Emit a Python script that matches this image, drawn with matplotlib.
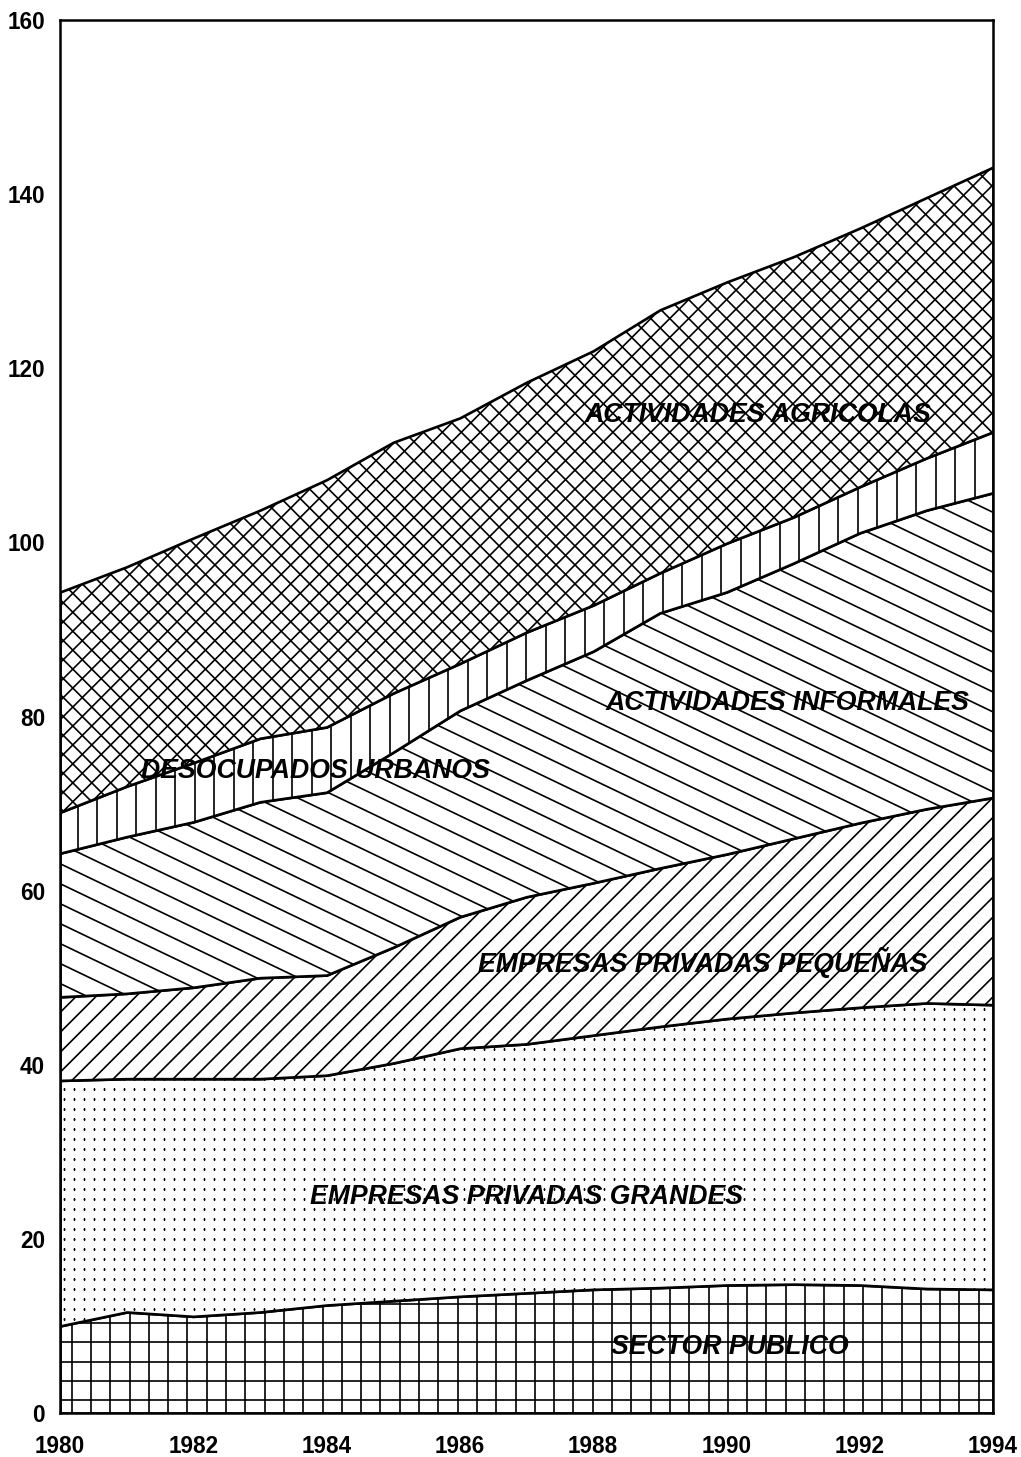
import numpy as np
import matplotlib
matplotlib.use('Agg')
import matplotlib.pyplot as plt
from matplotlib.collections import LineCollection
from matplotlib.lines import Line2D
from matplotlib.transforms import IdentityTransform

# data (millions, stacked layers)
years = np.arange(1980, 1995)
sector_publico = [10.0, 11.6, 11.1, 11.6, 12.4, 12.9, 13.4, 13.8, 14.2, 14.4, 14.7, 14.8, 14.7, 14.3, 14.2]
emp_grandes = [28.2, 26.8, 27.3, 26.8, 26.4, 27.3, 28.5, 28.6, 29.2, 30.0, 30.6, 31.2, 31.9, 32.8, 32.7]
emp_pequenas = [9.6, 9.8, 10.5, 11.6, 11.5, 13.3, 15.1, 16.9, 17.5, 18.2, 18.9, 20.0, 21.2, 22.3, 23.8]
informales = [16.5, 18.0, 19.0, 20.2, 21.0, 22.4, 23.7, 24.9, 26.6, 29.3, 30.1, 31.6, 33.3, 34.3, 35.0]
desocupados = [4.7, 5.8, 6.8, 7.3, 7.5, 6.8, 5.4, 5.5, 5.3, 4.6, 5.6, 5.3, 5.3, 6.0, 7.0]
agricolas = [25.3, 25.2, 25.8, 26.2, 28.4, 28.8, 28.2, 28.7, 29.2, 30.2, 30.0, 29.9, 29.7, 29.9, 30.4]

layer_names = ['SECTOR PUBLICO', 'EMPRESAS PRIVADAS GRANDES', 'EMPRESAS PRIVADAS PEQUEÑAS',
               'ACTIVIDADES INFORMALES', 'DESOCUPADOS URBANOS', 'ACTIVIDADES AGRICOLAS']
name_x = [1990.05, 1987.0, 1989.65, 1990.92, 1983.83, 1990.47]
name_y = [7.6, 24.8, 51.8, 81.6, 73.7, 114.6]

xticks = np.arange(1980, 1995, 2)
yticks = np.arange(0, 161, 20)

DPI = 120
fig = plt.figure(figsize=(1021 / DPI, 1457 / DPI), dpi=DPI)
ax = fig.add_axes([60 / 1021, 44 / 1457, 933 / 1021, 1393 / 1457])

polys = ax.stackplot(years, sector_publico, emp_grandes, emp_pequenas, informales,
                     desocupados, agricolas, colors=['white'] * 6,
                     edgecolor='black', linewidth=1.6)


# line hatching drawn in pixel space, clipped to one stacked layer
def hatch_lines(poly, angles, spacing, lw=1.0):
    x0, y0, w, h = ax.bbox.bounds
    L = np.hypot(w, h)
    cx, cy = x0 + w / 2, y0 + h / 2
    segs = []
    for a in angles:
        t = np.radians(a)
        dx, dy = np.cos(t), np.sin(t)
        for k in np.arange(-L / 2, L / 2 + spacing, spacing):
            px, py = cx - dy * k, cy + dx * k
            segs.append([(px - dx * L, py - dy * L), (px + dx * L, py + dy * L)])
    lc = LineCollection(segs, colors='black', linewidths=lw, transform=IdentityTransform())
    ax.add_collection(lc, autolim=False)
    lc.set_clip_path(poly.get_paths()[0], ax.transData)


def hatch_dots(poly, spacing):
    x0, y0, w, h = ax.bbox.bounds
    gx, gy = np.meshgrid(np.arange(x0 + 4, x0 + w, spacing), np.arange(y0 + 4, y0 + h, spacing))
    dots = Line2D(gx.ravel(), gy.ravel(), ls='none', marker='s', ms=1.1,
                  mfc='black', mec='none', transform=IdentityTransform())
    ax.add_line(dots)
    dots.set_clip_path(poly.get_paths()[0], ax.transData)


hatch_lines(polys[0], [0, 90], 19.3)
hatch_dots(polys[1], 10)
hatch_lines(polys[2], [45], 14.1)
hatch_lines(polys[3], [-25.6], 18.0)
hatch_lines(polys[4], [90], 19.5)
hatch_lines(polys[5], [45, 135], 13.4)

for s, x, y in zip(layer_names, name_x, name_y):
    ax.text(x, y, s, ha='center', va='center', fontsize=16, fontweight='bold',
            fontstyle='italic', family=['Liberation Sans', 'DejaVu Sans'], zorder=5)

ax.set_xlim(1980, 1994)
ax.set_ylim(0, 160)
ax.set_xticks(xticks)
ax.set_yticks(yticks)
ax.tick_params(length=0)
ax.tick_params(axis='x', pad=13)
ax.tick_params(axis='y', pad=9)
for lab in ax.get_xticklabels() + ax.get_yticklabels():
    lab.set_family(['Liberation Sans Narrow', 'Liberation Sans'])
    lab.set_fontweight('bold')
    lab.set_fontsize(13.5)
for sp in ax.spines.values():
    sp.set_linewidth(1.5)

fig.savefig('out.png', dpi=DPI)
